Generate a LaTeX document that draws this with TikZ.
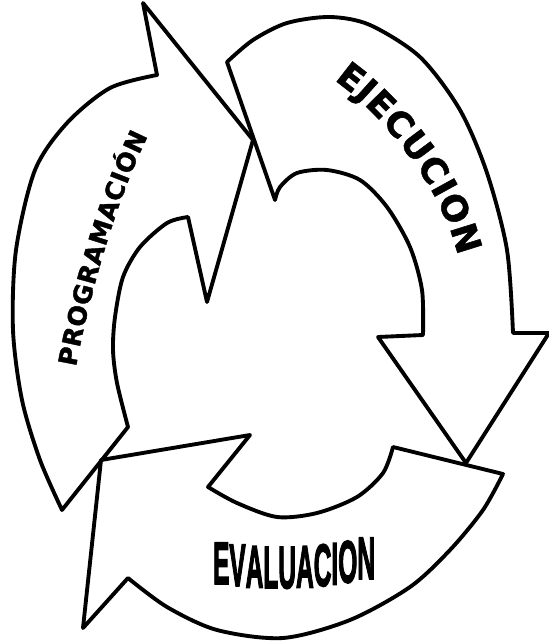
\documentclass[tikz,border=0pt]{standalone}
\usepackage{fontspec}
\newfontface\heavyfont{DejaVu Sans Bold}[FakeBold=1.5]
\newfontface\evalfont{Liberation Sans Bold}[FakeBold=3]
\usetikzlibrary{decorations.text}
\newcommand{\progtext}{\heavyfont\fontsize{36}{36}\selectfont}
\newcommand{\ejectext}{\heavyfont\fontsize{50}{50}\selectfont}

\begin{document}
\begin{tikzpicture}[x=0.05cm, y=-0.05cm,
  cyclearrow/.style={draw=black, line width=5.5pt, line join=round},
  evaltext/.style={font=\evalfont\fontsize{85}{85}\selectfont, inner sep=0pt, anchor=base}]
  % Frame in pixels of the reference (549 x 642)
  \useasboundingbox (0,0) rectangle (549,642);

  % Arrow: Programacion (left, pointing up to the right)
  \draw[cyclearrow] plot[smooth] coordinates {(62,510) (40,460) (22,400) (13,330) (16,250) (35,170) (67,123) (110,88) (157,75)}
    -- (143,3) -- (253,140) -- (207,302) -- (188,217)
    -- plot[smooth] coordinates {(188,217) (167,223) (140,247) (123,277) (115,317) (113,350) (117,383) (128,427)}
    -- cycle;

  % Arrow: Ejecucion (right, pointing down)
  \draw[cyclearrow] plot[smooth] coordinates {(227,62) (253,40) (287,23) (330,17) (370,25) (420,57) (460,110) (487,173) (507,250) (513,333)}
    -- (549,333) -- (466,463) -- (378,337) -- (423,335)
    -- plot[smooth] coordinates {(423,335) (422,290) (410,247) (387,207) (360,180) (327,170) (297,173) (280,187) (275,200)}
    -- cycle;

  % Arrow: Evaluacion (bottom, pointing up to the left)
  \draw[cyclearrow] plot[smooth] coordinates {(503,474) (483,510) (450,550) (410,587) (350,620) (283,638) (217,630) (167,607) (128,578)}
    -- (83,628) -- (101,460) -- (250,435) -- (208,487)
    -- plot[smooth] coordinates {(208,487) (237,503) (277,517) (317,513) (357,497) (383,473) (393,447)}
    -- cycle;

  % Labels along the arrows
  {\progtext
  \path[decorate, decoration={text along path, text={|\progtext|PROGRAMACIÓN}, text align={fit to path}}]
    (76,367) .. controls (88,300) and (116,200) .. (148,136);}
  {\ejectext
  \path[decorate, decoration={text along path, text={|\ejectext|EJECUCION}, text align={fit to path}}]
    (334,80) .. controls (375,108) and (440,180) .. (458,256);}

  % Evaluacion, letter by letter on a sagging baseline
  \foreach \ch/\xc [count=\i] in {E/221.2, V/237.5, A/254.5, L/270.8, U/287.2, A/304.9, C/322.6, I/334.8, O/347.8, N/366.2}{
    \pgfmathsetmacro{\yb}{588-7*((\xc-292)/75)*((\xc-292)/75)-0.03*(\xc-292)}
    \node[evaltext] (eval\i) at (\xc,\yb) {\scalebox{0.41}[1]{\ch}};
  }
\end{tikzpicture}
\end{document}
